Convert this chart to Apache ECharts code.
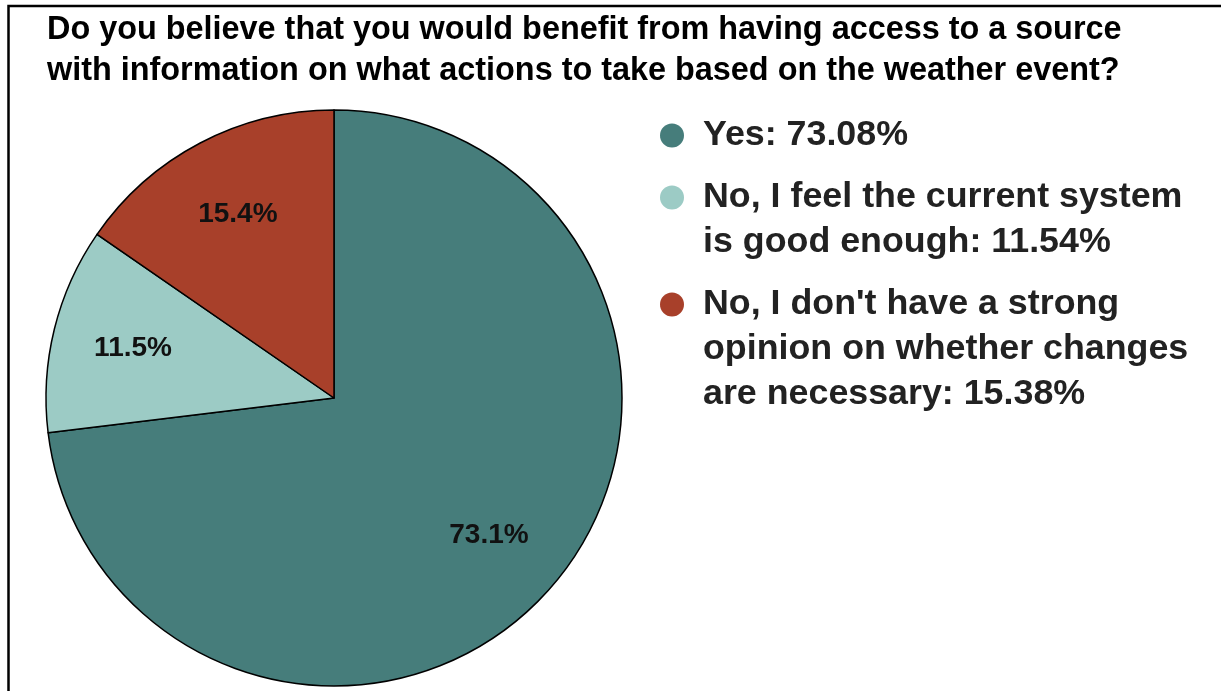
<!DOCTYPE html>
<html>
<head>
<meta charset="utf-8">
<script src="https://cdn.jsdelivr.net/npm/echarts@6/dist/echarts.min.js"></script>
<style>
html,body{margin:0;padding:0;background:#fff;}
#main{width:1221px;height:691px;}
</style>
</head>
<body>
<div id="main"></div>
<script>
const titleText = 'Do you believe that you would benefit from having access to a source\nwith information on what actions to take based on the weather event?';
const categories = [
  'Yes',
  'No, I feel the current system is good enough',
  "No, I don't have a strong opinion on whether changes are necessary"
];
const values = [73.08, 11.54, 15.38];
const colors = ['#467D7B', '#9CCBC5', '#A8402A'];
// legend text lines (wrapped as in the reference)
const legendLines = [
  ['Yes: 73.08%'],
  ['No, I feel the current system', 'is good enough: 11.54%'],
  ["No, I don't have a strong", 'opinion on whether changes', 'are necessary: 15.38%']
];

const FONT = "'Liberation Sans', Arial, sans-serif";
const data = categories.map((c, i) => ({ name: c, value: values[i], itemStyle: { color: colors[i] } }));

const rich = {
  ind: { width: 43, height: 45 },
  t: { fontSize: 35.8, fontWeight: 'bold', color: '#222', lineHeight: 45, fontFamily: FONT, verticalAlign: 'middle' }
};
colors.forEach((c, i) => {
  rich['dot' + i] = { width: 24, height: 24, borderRadius: 12, backgroundColor: c, verticalAlign: 'middle' };
});
rich.sp = { width: 19, height: 24 };

const chart = echarts.init(document.getElementById('main'), null, { renderer: 'canvas' });
chart.setOption({
  animation: false,
  backgroundColor: '#fff',
  title: {
    text: titleText,
    left: 42,
    top: 5,
    textStyle: { fontSize: 32.4, fontWeight: 'bold', color: '#000', lineHeight: 41, fontFamily: FONT }
  },
  legend: {
    orient: 'vertical',
    left: 650,
    top: 108,
    icon: 'none',
    itemWidth: 0,
    itemHeight: 0,
    itemGap: 17,
    selectedMode: false,
    data: categories,
    formatter: function (name) {
      const i = categories.indexOf(name);
      return legendLines[i].map((line, k) =>
        (k === 0 ? '{dot' + i + '|}{sp|}' : '{ind|}') + '{t|' + line + '}'
      ).join('\n');
    },
    textStyle: { rich: rich, fontSize: 35.8, lineHeight: 45, fontFamily: FONT }
  },
  graphic: [{
    type: 'rect',
    shape: { x: 8.5, y: 6, width: 1400, height: 900 },
    style: { fill: 'none', stroke: '#000', lineWidth: 2.5 },
    silent: true
  }],
  series: [{
    type: 'pie',
    center: [334, 398],
    radius: [0, 288],
    startAngle: 90,
    clockwise: true,
    silent: true,
    label: { show: false },
    labelLine: { show: false },
    itemStyle: { borderColor: '#000', borderWidth: 1.5 },
    data: data
  }, {
    type: 'pie',
    center: [334, 398],
    radius: [120, 288],
    startAngle: 90,
    clockwise: true,
    silent: true,
    itemStyle: { color: 'rgba(0,0,0,0)', borderWidth: 0 },
    label: {
      show: true,
      position: 'inside',
      formatter: p => p.value.toFixed(1) + '%',
      fontSize: 28,
      fontWeight: 'bold',
      color: '#111',
      fontFamily: FONT
    },
    labelLine: { show: false },
    data: categories.map((c, i) => ({ name: c, value: values[i] }))
  }]
});
</script>
</body>
</html>
